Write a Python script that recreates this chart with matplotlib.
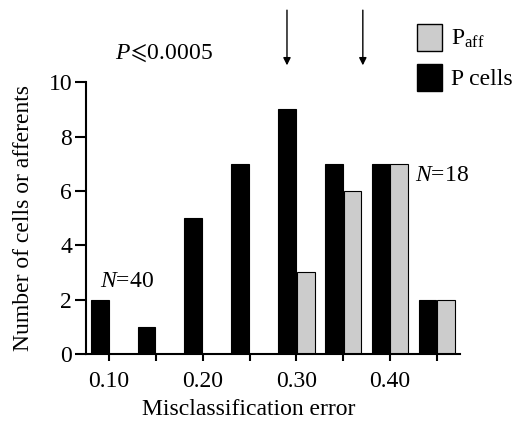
import numpy as np
import matplotlib
matplotlib.use("Agg")
import matplotlib.pyplot as plt
from matplotlib.patches import Patch

plt.rcParams['font.family'] = ['Liberation Serif', 'DejaVu Sans']
plt.rcParams['mathtext.fontset'] = 'custom'
plt.rcParams['mathtext.rm'] = 'Liberation Serif'
plt.rcParams['mathtext.it'] = 'Liberation Serif:italic'
plt.rcParams['mathtext.fallback'] = 'stix'
plt.rcParams['font.size'] = 17

# bin centres (misclassification error) and counts
bins = [0.10, 0.15, 0.20, 0.25, 0.30, 0.35, 0.40, 0.45]
p_cells = [2, 1, 5, 7, 9, 7, 7, 2]
p_aff = [0, 0, 0, 0, 3, 6, 7, 2]
arrow_x = [0.290, 0.371]
tick_labels = ['0.10', '', '0.20', '', '0.30', '', '0.40', '']

bins = np.array(bins)
w = 0.019

fig = plt.figure(figsize=(5.31, 4.28), dpi=100)
ax = fig.add_axes([0.162, 0.173, 0.704, 0.635])

# P cells sit just left of each tick, P afferents just right of it
ax.bar(bins - 0.0005 - w, p_cells, width=w, align='edge', color='black',
       edgecolor='black', linewidth=0.8)
mask = np.array(p_aff) > 0
ax.bar(bins[mask] + 0.0005, np.array(p_aff)[mask], width=w, align='edge',
       color='#cccccc', edgecolor='black', linewidth=0.8)

ax.set_xlim(0.0754, 0.4746)
ax.set_ylim(0, 10)
ax.set_xticks(bins)
ax.set_xticklabels(tick_labels)
ax.set_yticks([0, 2, 4, 6, 8, 10])
ax.spines['top'].set_visible(False)
ax.spines['right'].set_visible(False)
ax.spines['left'].set_linewidth(1.5)
ax.spines['bottom'].set_linewidth(1.5)
ax.tick_params(axis='y', direction='out', length=8, width=1.5, pad=2)
ax.tick_params(axis='x', direction='out', length=5, width=1.5, pad=7)

ax.set_xlabel('Misclassification error')
ax.xaxis.set_label_coords(0.436, -0.165)
ax.set_ylabel('Number of cells or afferents')
ax.yaxis.set_label_coords(-0.14, 0.5)

for xa in arrow_x:
    ax.annotate('', xy=(xa, 10.62), xytext=(xa, 12.65), annotation_clip=False,
                arrowprops=dict(arrowstyle='-|>', color='black', lw=1,
                                mutation_scale=11, shrinkA=0, shrinkB=0))

ax.text(0.0904, 2.65, r'$\mathit{N}$=40', ha='left', va='center')
ax.text(0.427, 6.58, r'$\mathit{N}$=18', ha='left', va='center')
ax.text(0.1064, 11.07, r'$\mathit{P}\!\leqslant\!\mathrm{0.0005}$', ha='left',
        va='center', clip_on=False)

handles = [Patch(facecolor='#cccccc', edgecolor='black', linewidth=1),
           Patch(facecolor='black', edgecolor='black', linewidth=1)]
fig.legend(handles, [r'P$_{\mathrm{aff}}$', 'P cells'], loc='upper left',
           bbox_to_anchor=(0.785, 0.945), frameon=False, borderpad=0,
           handlelength=1.06, handleheight=1.4, handletextpad=0.4,
           labelspacing=0.55, borderaxespad=0)

fig.savefig('out.png', dpi=100)
